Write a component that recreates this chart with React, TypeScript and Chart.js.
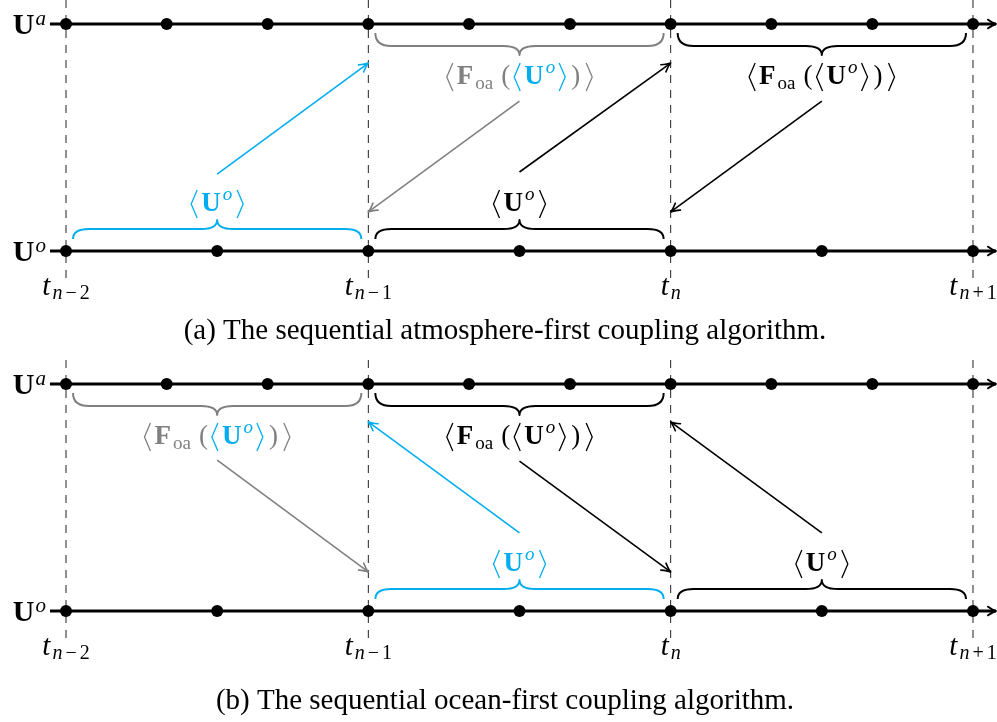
import React, { useEffect, useRef } from 'react';
import { Chart, registerables } from 'chart.js';

Chart.register(...registerables);

// ---------- data ----------
const timeSteps = [0, 1, 2, 3];
const timeSubscripts = ['n−2', 'n−1', 'n', 'n+1'];
const atmosphereSteps = [0, 0.333, 0.667, 1, 1.333, 1.667, 2, 2.333, 2.667, 3];
const oceanSteps = [0, 0.5, 1, 1.5, 2, 2.5, 3];
const ATMOSPHERE = 1;
const OCEAN = 0;
const axisStart = -0.053;
const axisEnd = 3.076;
const dashBottom = -0.119;

// panel (a): sequential atmosphere-first
const bracesASpans = [[0, 1], [1, 2], [1, 2], [2, 3]];
const bracesALevels = [OCEAN, ATMOSPHERE, OCEAN, ATMOSPHERE];
const bracesAKinds = ['U', 'F', 'U', 'F'];
const arrowsA = [
  [0.5, 0.339, 1, 0.828],
  [1.5, 0.66, 1, 0.172],
  [1.5, 0.348, 2, 0.828],
  [2.5, 0.66, 2, 0.172],
];
const captionA = '(a) The sequential atmosphere-first coupling algorithm.';

// panel (b): sequential ocean-first
const bracesBSpans = [[0, 1], [1, 2], [1, 2], [2, 3]];
const bracesBLevels = [ATMOSPHERE, ATMOSPHERE, OCEAN, OCEAN];
const bracesBKinds = ['F', 'F', 'U', 'U'];
const arrowsB = [
  [0.5, 0.665, 1, 0.172],
  [1.5, 0.66, 2, 0.172],
  [1.5, 0.344, 1, 0.833],
  [2.5, 0.344, 2, 0.833],
];
const captionB = '(b) The sequential ocean-first coupling algorithm.';

// ---------- styles ----------
const BLUE = '#00aeef';
const GRAY = '#808080';
const BLACK = '#000000';
const braceColorsA = [BLUE, GRAY, BLACK, BLACK];
const braceInnerA = [BLUE, BLUE, BLACK, BLACK];
const arrowColorsA = [BLUE, GRAY, BLACK, BLACK];
const braceColorsB = [GRAY, BLACK, BLUE, BLACK];
const braceInnerB = [BLUE, BLACK, BLUE, BLACK];
const arrowColorsB = [GRAY, BLACK, BLUE, BLACK];

const SERIF = '"Liberation Serif", "DejaVu Serif", serif';
const BOLD = `bold 27px ${SERIF}`;
const ROWBOLD = `bold 30px ${SERIF}`;
const ROWSUP = `italic 21px ${SERIF}`;
const REG = `27px ${SERIF}`;
const IT = `italic 29px ${SERIF}`;
const SUB = `19px ${SERIF}`;
const SUBIT = `italic 19px ${SERIF}`;
const TSUB = `20px ${SERIF}`;
const TSUBIT = `italic 20px ${SERIF}`;
const CAPTION = `29px ${SERIF}`;

const PX_PER_STEP = 302.33;
const X0_PX = 66;
const W = 997;
const ATM_PX = 24;
const PX_PER_LEVEL = 227;

type Run = { t?: string; br?: '<' | '>'; font?: string; c: string; dy?: number; pl?: number; pr?: number; w?: number };

function drawRuns(ctx: CanvasRenderingContext2D, runs: Run[], cx: number, base: number, align: 'center' | 'right' | 'left' = 'center') {
  const BW = 7;
  let total = 0;
  for (const r of runs) {
    if (r.br) r.w = BW;
    else {
      ctx.font = r.font as string;
      r.w = ctx.measureText(r.t as string).width;
    }
    total += (r.pl || 0) + (r.w as number) + (r.pr || 0);
  }
  let x = align === 'center' ? cx - total / 2 : align === 'right' ? cx - total : cx;
  ctx.textAlign = 'left';
  ctx.textBaseline = 'alphabetic';
  for (const r of runs) {
    x += r.pl || 0;
    if (r.br) {
      ctx.beginPath();
      ctx.strokeStyle = r.c;
      ctx.lineWidth = 1.3;
      ctx.lineJoin = 'miter';
      const top = base - 21, bot = base + 7, mid = base - 7;
      if (r.br === '<') {
        ctx.moveTo(x + BW, top);
        ctx.lineTo(x + 1, mid);
        ctx.lineTo(x + BW, bot);
      } else {
        ctx.moveTo(x, top);
        ctx.lineTo(x + BW - 1, mid);
        ctx.lineTo(x, bot);
      }
      ctx.stroke();
    } else {
      ctx.font = r.font as string;
      ctx.fillStyle = r.c;
      ctx.fillText(r.t as string, x, base + (r.dy || 0));
    }
    x += (r.w as number) + (r.pr || 0);
  }
}

function uRuns(c: string): Run[] {
  return [
    { br: '<', c, pr: 4 },
    { t: 'U', font: BOLD, c, pr: 1 },
    { t: 'o', font: SUBIT, c, dy: -11, pl: 1, pr: 5 },
    { br: '>', c },
  ];
}

function fRuns(c: string, ic: string): Run[] {
  return [
    { br: '<', c, pr: 4 },
    { t: 'F', font: BOLD, c, pr: 1 },
    { t: 'oa', font: SUB, c, dy: 5, pl: 1, pr: 8 },
    { t: '(', font: REG, c, pr: 3 },
    { br: '<', c: ic, pr: 4 },
    { t: 'U', font: BOLD, c: ic, pr: 1 },
    { t: 'o', font: SUBIT, c: ic, dy: -11, pl: 1, pr: 4 },
    { br: '>', c: ic, pr: 5 },
    { t: ')', font: REG, c, pr: 6 },
    { br: '>', c },
  ];
}

function tRuns(sub: string): Run[] {
  const runs: Run[] = [{ t: 't', font: IT, c: BLACK, pr: 2 }, { t: 'n', font: TSUBIT, c: BLACK, dy: 4 }];
  if (sub.length > 1) {
    runs.push({ t: sub[1], font: TSUB, c: BLACK, dy: 4, pl: 3, pr: 3 });
    runs.push({ t: sub.slice(2), font: TSUB, c: BLACK, dy: 4 });
  }
  return runs;
}

function arrowHead(ctx: CanvasRenderingContext2D, x1: number, y1: number, x2: number, y2: number, len: number, ang: number, color: string, lw: number) {
  const a = Math.atan2(y2 - y1, x2 - x1);
  ctx.beginPath();
  ctx.strokeStyle = color;
  ctx.lineWidth = lw;
  ctx.lineCap = 'round';
  ctx.lineJoin = 'round';
  ctx.moveTo(x2 - len * Math.cos(a - ang), y2 - len * Math.sin(a - ang));
  ctx.quadraticCurveTo(x2 - len * 0.35 * Math.cos(a - ang * 0.5), y2 - len * 0.35 * Math.sin(a - ang * 0.5), x2, y2);
  ctx.quadraticCurveTo(x2 - len * 0.35 * Math.cos(a + ang * 0.5), y2 - len * 0.35 * Math.sin(a + ang * 0.5), x2 - len * Math.cos(a + ang), y2 - len * Math.sin(a + ang));
  ctx.stroke();
}

function drawBrace(ctx: CanvasRenderingContext2D, x0: number, x1: number, lineY: number, dir: number, color: string) {
  const xl = x0 + 7, xr = x1 - 7, xc = (x0 + x1) / 2;
  const ye = lineY + dir * (dir > 0 ? 9 : 12);
  const yf = lineY + dir * 22;
  const yt = lineY + dir * 31;
  const r = 16;
  ctx.beginPath();
  ctx.strokeStyle = color;
  ctx.lineWidth = 2;
  ctx.lineCap = 'butt';
  ctx.moveTo(xl, ye);
  ctx.quadraticCurveTo(xl, yf, xl + r, yf);
  ctx.lineTo(xc - r, yf);
  ctx.quadraticCurveTo(xc, yf, xc, yt);
  ctx.quadraticCurveTo(xc, yf, xc + r, yf);
  ctx.lineTo(xr - r, yf);
  ctx.quadraticCurveTo(xr, yf, xr, ye);
  ctx.stroke();
}

type PanelDef = {
  height: number;
  spans: number[][];
  levels: number[];
  kinds: string[];
  braceColors: string[];
  braceInner: string[];
  arrows: number[][];
  arrowColors: string[];
  caption: string;
  captionBase: number;
};

const panels: PanelDef[] = [
  { height: 360, spans: bracesASpans, levels: bracesALevels, kinds: bracesAKinds, braceColors: braceColorsA, braceInner: braceInnerA, arrows: arrowsA, arrowColors: arrowColorsA, caption: captionA, captionBase: 339 },
  { height: 362, spans: bracesBSpans, levels: bracesBLevels, kinds: bracesBKinds, braceColors: braceColorsB, braceInner: braceInnerB, arrows: arrowsB, arrowColors: arrowColorsB, caption: captionB, captionBase: 349 },
];

function Panel({ def }: { def: PanelDef }) {
  const ref = useRef<HTMLCanvasElement | null>(null);
  useEffect(() => {
    const canvas = ref.current;
    if (!canvas) return;
    const xMin = -X0_PX / PX_PER_STEP;
    const xMax = xMin + W / PX_PER_STEP;
    const yMax = ATMOSPHERE + ATM_PX / PX_PER_LEVEL;
    const yMin = ATMOSPHERE - (def.height - ATM_PX) / PX_PER_LEVEL;

    const datasets: any[] = [];
    timeSteps.forEach((t) => {
      datasets.push({
        data: [{ x: t, y: yMax }, { x: t, y: dashBottom }],
        showLine: true, borderColor: '#222', borderWidth: 1, borderDash: [8, 7],
        pointRadius: 0, order: 10,
      });
    });
    [ATMOSPHERE, OCEAN].forEach((lvl) => {
      datasets.push({
        data: [{ x: axisStart, y: lvl }, { x: axisEnd, y: lvl }],
        showLine: true, borderColor: BLACK, borderWidth: 2.8, pointRadius: 0, order: 9, axisLine: true,
      });
    });
    def.arrows.forEach((a, i) => {
      datasets.push({
        data: [{ x: a[0], y: a[1] }, { x: a[2], y: a[3] }],
        showLine: true, borderColor: def.arrowColors[i], borderWidth: 1.6, pointRadius: 0, order: 8, isArrow: true,
      });
    });
    datasets.push({
      data: atmosphereSteps.map((x) => ({ x, y: ATMOSPHERE })),
      showLine: false, pointRadius: 6, pointBackgroundColor: BLACK, pointBorderWidth: 0, order: 1,
    });
    datasets.push({
      data: oceanSteps.map((x) => ({ x, y: OCEAN })),
      showLine: false, pointRadius: 6, pointBackgroundColor: BLACK, pointBorderWidth: 0, order: 1,
    });

    const plugin = {
      id: 'diagram',
      afterDatasetsDraw(chart: any) {
        const ctx: CanvasRenderingContext2D = chart.ctx;
        const xs = chart.scales.x, ys = chart.scales.y;
        ctx.save();
        chart.data.datasets.forEach((ds: any, i: number) => {
          const meta = chart.getDatasetMeta(i);
          const p0 = meta.data[0], p1 = meta.data[1];
          if (ds.isArrow) arrowHead(ctx, p0.x, p0.y, p1.x, p1.y, 10, 0.45, ds.borderColor, 1.6);
          if (ds.axisLine) arrowHead(ctx, p0.x, p0.y, p1.x, p1.y, 9, 0.5, BLACK, 2);
        });
        def.spans.forEach((s, i) => {
          const lvl = def.levels[i];
          const lineY = ys.getPixelForValue(lvl);
          drawBrace(ctx, xs.getPixelForValue(s[0]), xs.getPixelForValue(s[1]), lineY, lvl === ATMOSPHERE ? 1 : -1, def.braceColors[i]);
        });
        ctx.restore();
      },
      afterDraw(chart: any) {
        const ctx: CanvasRenderingContext2D = chart.ctx;
        const xs = chart.scales.x, ys = chart.scales.y;
        ctx.save();
        const atmY = ys.getPixelForValue(ATMOSPHERE);
        const ocnY = ys.getPixelForValue(OCEAN);
        // row labels
        drawRuns(ctx, [{ t: 'U', font: ROWBOLD, c: BLACK, pr: 1 }, { t: 'a', font: ROWSUP, c: BLACK, dy: -9 }], 46, atmY + 10, 'right');
        drawRuns(ctx, [{ t: 'U', font: ROWBOLD, c: BLACK, pr: 1 }, { t: 'o', font: ROWSUP, c: BLACK, dy: -9 }], 46, ocnY + 10, 'right');
        // time labels
        timeSteps.forEach((t, i) => {
          drawRuns(ctx, tRuns(timeSubscripts[i]), xs.getPixelForValue(t), ocnY + 44);
        });
        // brace labels
        def.spans.forEach((s, i) => {
          const lvl = def.levels[i];
          const lineY = ys.getPixelForValue(lvl);
          const cx = (xs.getPixelForValue(s[0]) + xs.getPixelForValue(s[1])) / 2;
          const base = lvl === ATMOSPHERE ? lineY + 60 : lineY - 40;
          const runs = def.kinds[i] === 'U' ? uRuns(def.braceColors[i]) : fRuns(def.braceColors[i], def.braceInner[i]);
          drawRuns(ctx, runs, cx, base);
        });
        // caption
        ctx.font = CAPTION;
        ctx.fillStyle = BLACK;
        ctx.textAlign = 'center';
        ctx.textBaseline = 'alphabetic';
        ctx.fillText(def.caption, 505, def.captionBase);
        ctx.restore();
      },
    };

    const chart = new Chart(canvas, {
      type: 'scatter',
      data: { datasets },
      options: {
        responsive: false,
        maintainAspectRatio: false,
        devicePixelRatio: 1,
        animation: false,
        events: [],
        layout: { padding: 0, autoPadding: false },
        scales: {
          x: { type: 'linear', display: false, min: xMin, max: xMax },
          y: { type: 'linear', display: false, min: yMin, max: yMax },
        },
        plugins: { legend: { display: false }, tooltip: { enabled: false } },
      },
      plugins: [plugin],
    } as any);
    return () => chart.destroy();
  }, [def]);
  return <canvas ref={ref} width={W} height={def.height} style={{ display: 'block', width: W, height: def.height }} />;
}

export default function App() {
  return (
    <div style={{ position: 'absolute', left: 0, top: 0, width: W, height: 722, background: '#fff' }}>
      {panels.map((p, i) => (
        <Panel key={i} def={p} />
      ))}
    </div>
  );
}
